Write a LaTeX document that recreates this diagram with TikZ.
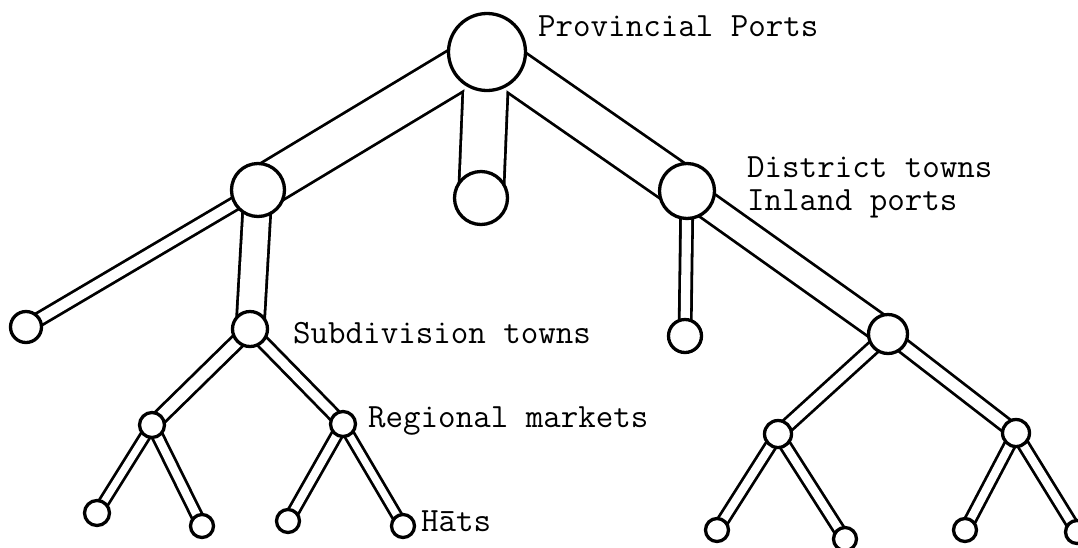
\documentclass[tikz,border=0pt]{standalone}
\usepackage{fontspec}
\usetikzlibrary{backgrounds}
\begin{document}
\begin{tikzpicture}[x=1pt,y=-1pt,
  place/.style={circle,draw,fill=white,line width=3.3pt,inner sep=0pt},
  lbl/.style={anchor=base west,inner sep=0pt,font=\ttfamily\fontsize{34}{40}\selectfont}]
\useasboundingbox (0,0) rectangle (1078,547);
\clip (0,0) rectangle (1078,547);
% places
\node[place,minimum size=77pt] (top) at (487,52) {};
\node[place,minimum size=53pt] (lone) at (258,190) {};
\node[place,minimum size=53pt] (mid) at (481,198) {};
\node[place,minimum size=55pt] (dist) at (687,191) {};
\node[place,minimum size=31pt] (far) at (26,327) {};
\node[place,minimum size=35pt] (sub) at (250,329) {};
\node[place,minimum size=33pt] (dsmall) at (685,336) {};
\node[place,minimum size=39pt] (rsub) at (888,334) {};
\node[place,minimum size=25pt] (rml) at (152,425) {};
\node[place,minimum size=25pt] (rmr) at (343,424) {};
\node[place,minimum size=25pt] (h1) at (97,513) {};
\node[place,minimum size=23pt] (h2) at (202,526) {};
\node[place,minimum size=23pt] (h3) at (288,521) {};
\node[place,minimum size=23pt] (h4) at (403,526) {};
\node[place,minimum size=27pt] (r2l) at (778,434) {};
\node[place,minimum size=27pt] (r2r) at (1016,433) {};
\node[place,minimum size=23pt] (h5) at (717,530) {};
\node[place,minimum size=23pt] (h6) at (845,539) {};
\node[place,minimum size=23pt] (h7) at (965,530) {};
\node[place,minimum size=23pt] (h8) at (1077,532) {};
% pipes (double lines)
\def\pipes{top/lone/43,top/mid/45,top/dist/43,lone/far/13,lone/sub/28,dist/dsmall/12,dist/rsub/27,sub/rml/14,sub/rmr/12,rml/h1/10,rml/h2/11,rmr/h3/11,rmr/h4/10,rsub/r2l/13,rsub/r2r/14,r2l/h5/11,r2l/h6/11,r2r/h7/11,r2r/h8/11}
\begin{scope}[on background layer]
\foreach \a/\b/\w in \pipes {\draw[black,line width=\w+2.8] (\a.center) -- (\b.center);}
\foreach \a/\b/\w in \pipes {\draw[white,line width=\w-2.8] (\a.center) -- (\b.center);}
\end{scope}
% labels
\node[lbl] (tprov) at (538,36) {Provincial Ports};
\node[lbl] (tdist) at (747,177) {District towns};
\node[lbl] (tinl) at (747,210) {Inland ports};
\node[lbl] (tsub) at (293,343) {Subdivision towns};
\node[lbl] (treg) at (368,427) {Regional markets};
\node[lbl] (that) at (421,531) {Hāts};
\end{tikzpicture}
\end{document}
